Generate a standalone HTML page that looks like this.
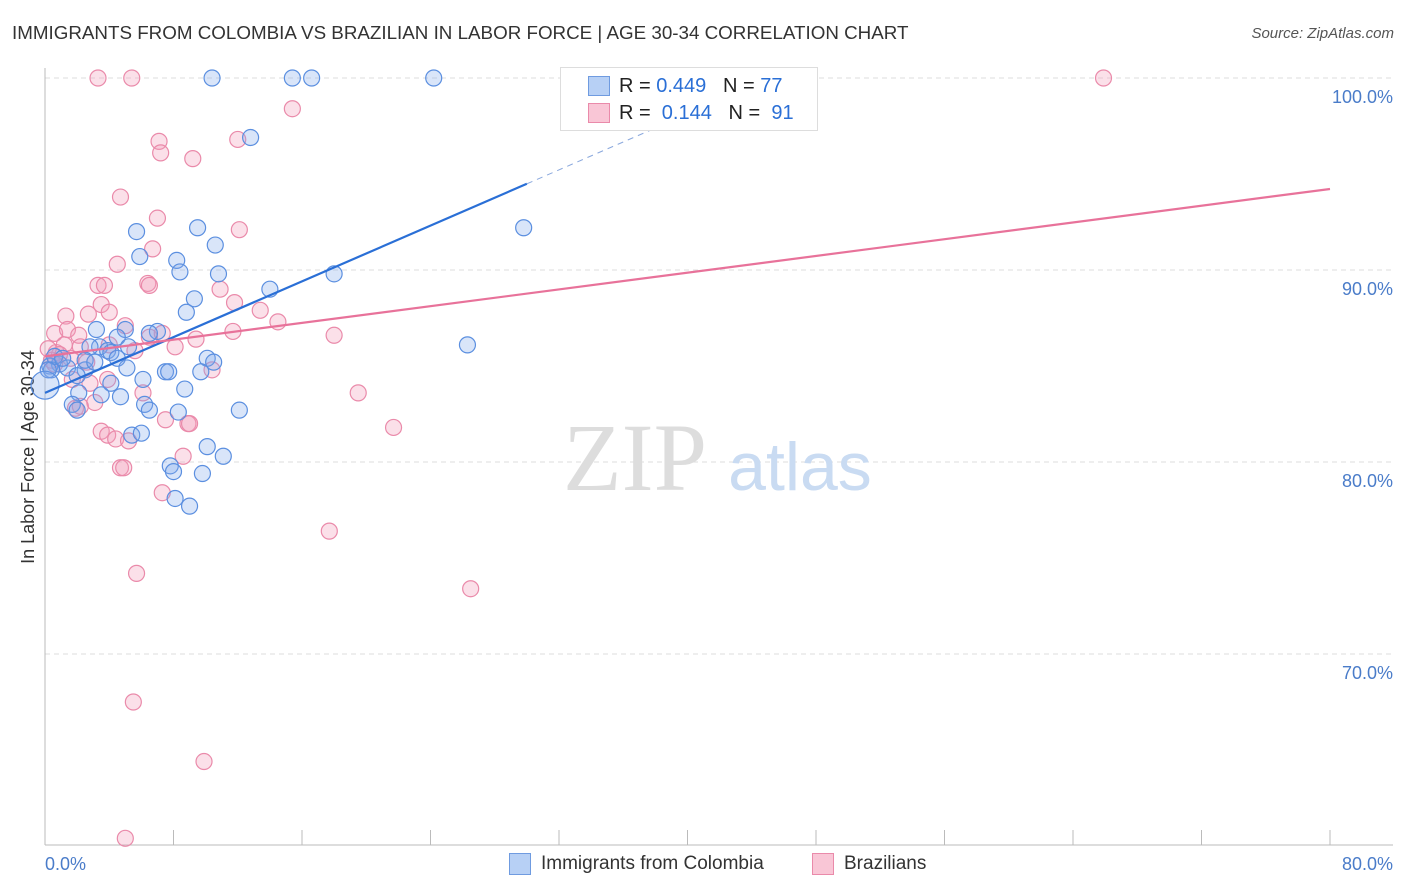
<!DOCTYPE html>
<html><head><meta charset="utf-8"><style>
body{margin:0;background:#fff;font-family:"Liberation Sans",sans-serif;}
#wrap{position:relative;width:1406px;height:892px;overflow:hidden;}
.t{position:absolute;white-space:nowrap;}
</style></head><body>
<div id="wrap">
<div class="t" style="left:12px;top:22px;font-size:18.8px;color:#333;">IMMIGRANTS FROM COLOMBIA VS BRAZILIAN IN LABOR FORCE | AGE 30-34 CORRELATION CHART</div>
<div class="t" style="right:12px;top:25px;font-size:15px;color:#555;font-style:italic;">Source: ZipAtlas.com</div>
<svg id="svg" width="1406" height="892" style="position:absolute;left:0;top:0"></svg>
</div>
<script>
const xTicksVals=[0,8,16,24,32,40,48,56,64,72,80];
const yGridVals=[100,90,80,70];
const yTickLabels=["100.0%","90.0%","80.0%","70.0%"];
const blueX=[10.4,15.4,16.6,24.2,12.8,29.8,5.7,9.5,5.9,8.2,10.6,8.4,10.8,18.0,14.0,9.3,8.8,3.2,5.0,7.0,6.5,4.5,3.4,3.9,2.8,4.1,4.5,26.3,5.2,10.1,10.5,9.7,5.1,7.5,7.7,0.9,1.4,2.5,0.3,0.4,2.0,6.1,4.1,8.7,3.5,2.1,4.7,1.7,6.2,6.5,2.0,8.3,12.1,5.4,6.0,10.1,11.1,7.8,8.0,9.8,8.1,9.0,0.6,1.1,2.5,3.1,0.2,0.0];
const blueY=[100,100,100,100,96.9,92.2,92.0,92.2,90.7,90.5,91.3,89.9,89.8,89.8,89.0,88.5,87.8,86.9,86.9,86.8,86.7,86.5,86.0,85.8,86.0,85.7,85.4,86.1,86.0,85.4,85.2,84.7,84.9,84.7,84.7,85.1,84.9,84.8,85.0,84.8,84.5,84.3,84.1,83.8,83.5,83.6,83.4,83.0,83.0,82.7,82.7,82.6,82.7,81.4,81.5,80.8,80.3,79.8,79.5,79.4,78.1,77.7,85.5,85.4,85.3,85.2,84.8,84.0];
const pinkX=[3.3,5.4,65.9,15.4,7.1,7.2,12.0,9.2,4.7,7.0,12.1,6.7,4.5,6.4,6.5,3.3,3.7,10.9,11.8,3.5,2.7,4.0,13.4,14.5,1.3,0.6,1.4,2.1,5.0,8.1,9.4,11.7,18.0,6.5,7.3,2.2,4.0,0.7,1.2,0.4,1.6,2.6,5.6,10.4,3.9,1.7,2.8,19.5,6.1,1.9,3.1,2.2,21.7,7.5,8.9,9.0,3.5,3.9,4.4,5.2,8.6,4.7,4.9,7.3,17.7,26.5,5.7,5.5,9.9,5.0,0.9,0.2,0.6];
const pinkY=[100,100,100,98.4,96.7,96.1,96.8,95.8,93.8,92.7,92.1,91.1,90.3,89.3,89.2,89.2,89.2,89.0,88.3,88.2,87.7,87.8,87.9,87.3,87.6,86.7,86.9,86.6,87.1,86.0,86.4,86.8,86.6,86.5,86.7,86.0,86.1,85.7,86.1,85.3,85.4,85.2,85.8,84.8,84.3,84.3,84.1,83.6,83.6,82.8,83.1,82.9,81.8,82.2,82.0,82.0,81.6,81.4,81.2,81.1,80.3,79.7,79.7,78.4,76.4,73.4,74.2,67.5,64.4,60.4,85.6,85.9,85.1];
const blueTrend=[83.6,0.363];
const pinkTrend=[85.5,0.109];

const X0=45,X1=1330,Y100=78,PXPCT=19.2;
const sx=v=>X0+v*(X1-X0)/80;
const sy=v=>Y100+(100-v)*PXPCT;
const svg=document.getElementById('svg');
const NS='http://www.w3.org/2000/svg';
function mk(tag,a){const e=document.createElementNS(NS,tag);for(const k in a)e.setAttribute(k,a[k]);svg.appendChild(e);return e;}
yGridVals.forEach((v,i)=>{
 const g=mk('line',{x1:X0,x2:1393,y1:sy(v),y2:sy(v),stroke:'#ddd','stroke-dasharray':'5,4'});
 
 
 const t=mk('text',{x:1393,y:sy(v)+25,'text-anchor':'end','font-size':18,fill:'#4a7cc9'});
 t.textContent=yTickLabels[i];
 
 
});
const ax=mk('line',{x1:X0,x2:X0,y1:68,y2:845,stroke:'#bbb'});


const bx=mk('line',{x1:X0,x2:1393,y1:845,y2:845,stroke:'#bbb'});


xTicksVals.forEach(v=>{
 const t=mk('line',{x1:sx(v),x2:sx(v),y1:830,y2:845,stroke:'#bbb'});
 
 
});
const xl=mk('text',{x:45,y:870,'font-size':18,fill:'#4a7cc9'});xl.textContent='0.0%';


const xr=mk('text',{x:1393,y:870,'text-anchor':'end','font-size':18,fill:'#4a7cc9'});xr.textContent='80.0%';


const yt=mk('text',{x:0,y:0,'font-size':18,fill:'#333','text-anchor':'middle',transform:'translate(34,457) rotate(-90)'});yt.textContent='In Labor Force | Age 30-34';


const w1=mk('text',{x:635,y:490,'font-size':96,fill:'#ddd','font-family':'Liberation Serif,serif','text-anchor':'middle'});w1.textContent='ZIP';


const w2=mk('text',{x:800,y:490,'font-size':68,fill:'#c9dbf2','text-anchor':'middle'});w2.textContent='atlas';


pinkX.forEach((v,i)=>{
 const c=mk('circle',{cx:sx(v),cy:sy(pinkY[i]),r:8,fill:'rgba(244,160,188,0.32)',stroke:'#ea8aaa','stroke-width':1.2});
 
 
});
blueX.forEach((v,i)=>{
 const c=mk('circle',{cx:sx(v),cy:sy(blueY[i]),r:i==blueX.length-1?14:8,fill:'rgba(130,170,235,0.3)',stroke:'#5b8fe0','stroke-width':1.2});
 
 
});
const bl=mk('line',{x1:sx(0),y1:sy(blueTrend[0]),x2:sx(30),y2:sy(blueTrend[0]+30*blueTrend[1]),stroke:'#2a6fd6','stroke-width':2.2});


const bd=mk('line',{x1:sx(30),y1:sy(blueTrend[0]+30*blueTrend[1]),x2:sx(45),y2:sy(blueTrend[0]+45*blueTrend[1]),stroke:'#8aa8dd','stroke-width':1,'stroke-dasharray':'6,5'});


const pl=mk('line',{x1:sx(0),y1:sy(pinkTrend[0]),x2:sx(80),y2:sy(pinkTrend[0]+80*pinkTrend[1]),stroke:'#e8729a','stroke-width':2.2});


</script>
<div class="t" style="left:560px;top:67px;width:256px;height:62px;background:#fff;border:1px solid #ddd;">
 <div style="position:absolute;left:27px;top:8px;width:20px;height:18px;background:#b7d0f5;border:1px solid #6f9be0;"></div>
 <div class="t" style="left:58px;top:7px;font-size:20px;color:#222;">R = <span style="color:#2a6fd6">0.449</span>&nbsp;&nbsp;&nbsp;N = <span style="color:#2a6fd6">77</span></div>
 <div style="position:absolute;left:27px;top:35px;width:20px;height:18px;background:#f9c6d6;border:1px solid #ea8aaa;"></div>
 <div class="t" style="left:58px;top:34px;font-size:20px;color:#222;">R = &nbsp;<span style="color:#2a6fd6">0.144</span>&nbsp;&nbsp;&nbsp;N = &nbsp;<span style="color:#2a6fd6">91</span></div>
</div>
<div class="t" style="left:509px;top:853px;width:20px;height:20px;background:#b7d0f5;border:1px solid #6f9be0;"></div>
<div class="t" style="left:541px;top:853px;font-size:19px;color:#333;">Immigrants from Colombia</div>
<div class="t" style="left:812px;top:853px;width:20px;height:20px;background:#f9c6d6;border:1px solid #ea8aaa;"></div>
<div class="t" style="left:844px;top:853px;font-size:19px;color:#333;">Brazilians</div>
</body></html>
